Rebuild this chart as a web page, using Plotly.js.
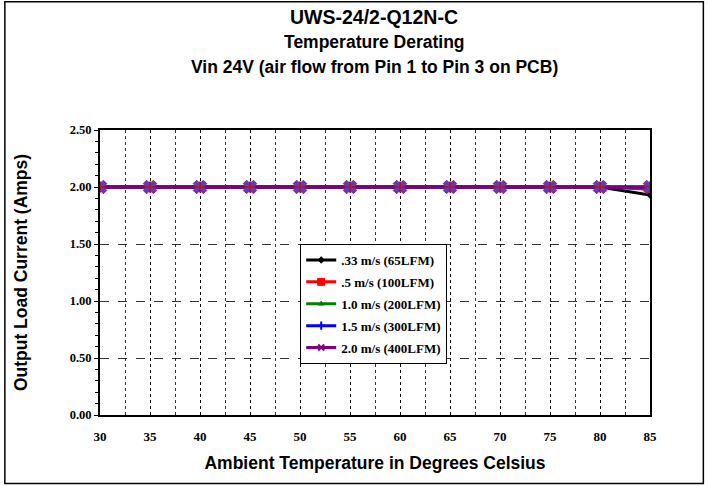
<!DOCTYPE html>
<html><head><meta charset="utf-8">
<script src="https://cdn.plot.ly/plotly-3.0.1.min.js"></script>
<style>body{margin:0;padding:0;background:#fff}#chart{width:709px;height:486px}</style>
</head><body><div id="chart"></div>
<script>
const temps = [30,35,40,45,50,55,60,65,70,75,80,85];
const s033 = [2.00,2.00,2.00,2.00,2.00,2.00,2.00,2.00,2.00,2.00,2.00,1.93];
const s05  = [2.00,2.00,2.00,2.00,2.00,2.00,2.00,2.00,2.00,2.00,2.00,1.98];
const s10  = [2.00,2.00,2.00,2.00,2.00,2.00,2.00,2.00,2.00,2.00,2.00,2.00];
const s15  = [2.00,2.00,2.00,2.00,2.00,2.00,2.00,2.00,2.00,2.00,2.00,2.00];
const s20  = [2.00,2.00,2.00,2.00,2.00,2.00,2.00,2.00,2.00,2.00,2.00,2.00];
const names = ['.33 m/s (65LFM)','.5 m/s (100LFM)','1.0 m/s (200LFM)','1.5 m/s (300LFM)','2.0 m/s (400LFM)'];
const yTicks = [0,0.5,1.0,1.5,2.0,2.5];
const xTicks = [30,35,40,45,50,55,60,65,70,75,80,85];
const titleLines = ['UWS-24/2-Q12N-C','Temperature Derating','Vin 24V (air flow from Pin 1 to Pin 3 on PCB)'];

const series = [s033,s05,s10,s15,s20];
const colors = ['#000000','#ff0000','#008000','#0000ff','#800080'];
const symbols = ['diamond','square','triangle-up','cross-thin','x-thin'];
const msizes = [5,7,5,6,6];
const traces = series.map((s,i)=>({
  x: temps, y: s, name: names[i], type:'scatter', mode:'lines+markers', legendgroup:'g'+i,
  line:{color:colors[i], width:3},
  marker:{symbol:symbols[i], size:msizes[i], color:colors[i],
          line:{color:colors[i], width:(i>=3)?2:1}}
}));
// large star-like markers of the top series, drawn over the lines
traces.push({x: temps, y: s20, type:'scatter', mode:'markers', showlegend:false, hoverinfo:'skip',
  marker:{symbol:'x', size:12, color:'#6a3aa8', line:{color:'#7a2a9a', width:1}}});
traces.push({x: temps, y: s20, type:'scatter', mode:'markers', showlegend:false, hoverinfo:'skip',
  marker:{symbol:'cross-thin', size:8, color:'#b02060', line:{color:'#a01850', width:2}}});

const serif = 'Liberation Serif, Times New Roman, serif';
const sans = 'Liberation Sans, Arial, sans-serif';
const tFont = {family:sans, size:17.5, color:'#000', weight:'bold'};
const layout = {
  width:709, height:486,
  margin:{l:100, r:59, t:130, b:71},
  paper_bgcolor:'#fff', plot_bgcolor:'#fff',
  showlegend:true,
  title:{text:titleLines[0], font:{family:sans, size:19.5, color:'#000', weight:'bold'}, x:374/709, xanchor:'center', y:1-17/486, yanchor:'middle'},
  annotations:[
    {text:titleLines[1], xref:'paper', yref:'paper', x:(374-100)/550, y:1+(130-42.5)/285, xanchor:'center', yanchor:'middle', showarrow:false, font:tFont},
    {text:titleLines[2], xref:'paper', yref:'paper', x:(374-100)/550, y:1+(130-67)/285, xanchor:'center', yanchor:'middle', showarrow:false, font:tFont}
  ],
  xaxis:{range:[30,85], tickvals:xTicks, ticktext:xTicks.map(String),
         tickfont:{family:serif, size:13, color:'#000', weight:'bold'},
         ticklabelstandoff:8,
         showgrid:true, gridcolor:'#000', gridwidth:0.8, griddash:'dot',
         minor:{dtick:2.5, tick0:30, showgrid:true, gridcolor:'#000', gridwidth:0.8, griddash:'dot', ticks:''},
         showline:true, linecolor:'#000', linewidth:2, mirror:true, zeroline:false,
         ticks:'',
         title:{text:'Ambient Temperature in Degrees Celsius', font:{family:sans, size:17.5, color:'#000', weight:'bold'}, standoff:14}},
  yaxis:{range:[0,2.5], tickvals:yTicks, tickformat:'.2f',
         tickfont:{family:serif, size:12.5, color:'#000', weight:'bold'},
         showgrid:true, gridcolor:'#000', gridwidth:0.8, griddash:'dash',
         minor:{dtick:0.1, ticks:'outside', ticklen:3, tickcolor:'#000', showgrid:false},
         ticks:'outside', ticklen:4, tickcolor:'#000',
         showline:true, linecolor:'#000', linewidth:2, mirror:true, zeroline:false,
         title:{text:'Output Load Current (Amps)', font:{family:sans, size:17.5, color:'#000', weight:'bold'}, standoff:38}},
  legend:{x:0.364, y:0.6, xanchor:'left', yanchor:'top', bgcolor:'#fff', bordercolor:'#000', borderwidth:1,
          font:{family:serif, size:13, color:'#000', weight:'bold'}, tracegroupgap:2},
  shapes:[{type:'rect', xref:'paper', yref:'paper', x0:-0.173, x1:1.097, y0:-0.24, y1:1.45,
           line:{color:'#000', width:1.5}, fillcolor:'rgba(0,0,0,0)', layer:'below'}]
};
Plotly.newPlot('chart', traces, layout, {displayModeBar:false, staticPlot:true});
</script></body></html>
